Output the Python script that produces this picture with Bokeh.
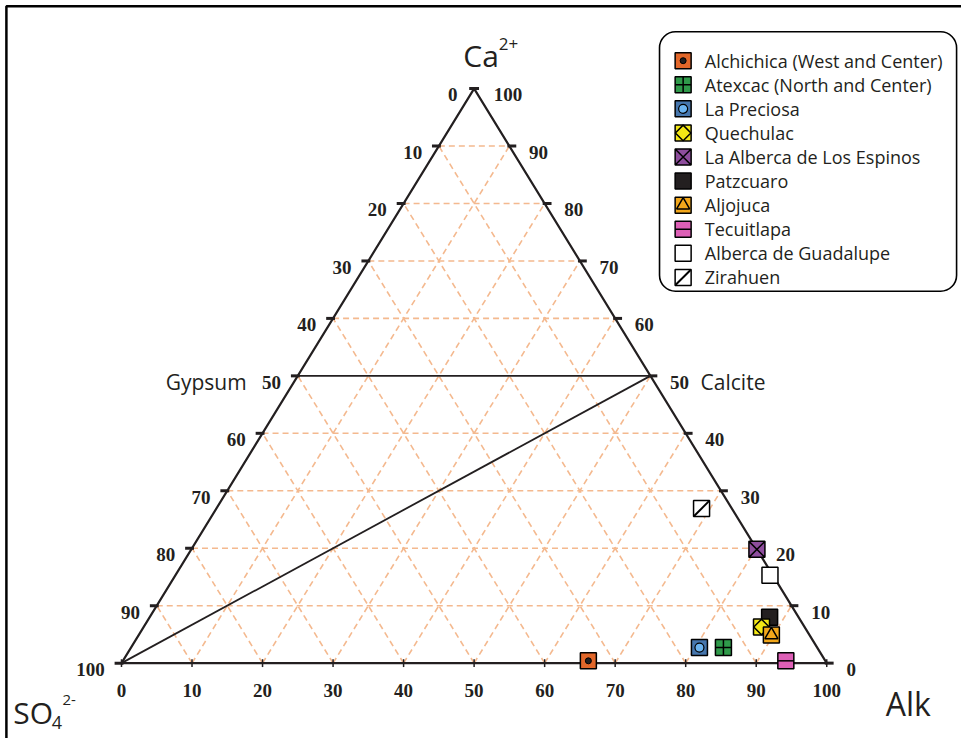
import numpy as np
from bokeh.plotting import figure
from bokeh.models import Range1d, BoxAnnotation, ColumnDataSource
from bokeh.core.properties import value
from bokeh.embed import file_html
from bokeh.resources import INLINE

# ---------------- data ----------------
lakes = ["Alchichica (West and Center)", "Atexcac (North and Center)", "La Preciosa",
         "Quechulac", "La Alberca de Los Espinos", "Patzcuaro", "Aljojuca",
         "Tecuitlapa", "Alberca de Guadalupe", "Zirahuen"]
ca_pct = [0.4, 2.7, 2.7, 6.3, 19.8, 8.0, 4.9, 0.4, 15.3, 26.9]
alk_pct = [66.0, 84.0, 80.6, 87.6, 80.2, 87.9, 89.7, 94.0, 84.3, 68.8]
so4_pct = [round(100 - c - a, 1) for c, a in zip(ca_pct, alk_pct)]
tick_values = [0, 10, 20, 30, 40, 50, 60, 70, 80, 90, 100]
draw_order = [0, 1, 2, 4, 8, 9, 5, 3, 6, 7]

# ---------------- layout (positions given in reference-picture pixels) ----------------
W, H = 961, 738
REF_W, REF_H = 977, 754
PX0, PY0 = 123.0, 677.0      # reference pixel of the SO4 vertex
SX, SY = 7.17, 5.87          # reference pixels per percent unit


def to_x(px):
    return (px - PX0) / SX


def to_y(py):
    return (PY0 - py) / SY


def tern(ca, alk, so4):
    tot = ca + alk + so4
    return (alk + ca / 2.0) / tot * 100.0, ca / tot * 100.0


def ref_px(pt):
    return PX0 + pt[0] * SX, PY0 - pt[1] * SY


INK = "#231f20"
GRID = "#f4b98f"
SERIF = "Liberation Serif"
SANS = "Open Sans"

p = figure(width=W, height=H, output_backend="svg", toolbar_location=None,
           x_range=Range1d(to_x(0), to_x(REF_W)), y_range=Range1d(to_y(REF_H), to_y(0)),
           x_axis_type=None, y_axis_type=None, min_border=0, title=None)
p.outline_line_color = None
p.background_fill_color = "white"
p.border_fill_color = "white"

# outer frame (only its left and top sides fall inside the picture)
p.add_layout(BoxAnnotation(left=to_x(6), right=to_x(REF_W + 20), top=to_y(6), bottom=to_y(REF_H + 20),
                           fill_alpha=0, line_color="black", line_alpha=1.0, line_width=2.5,
                           level="overlay"))

# ---------------- grid ----------------
gx0, gy0, gx1, gy1 = [], [], [], []
for v in tick_values[1:-1]:
    segs = []
    if v != 50:
        segs.append((tern(v, 0, 100 - v), tern(v, 100 - v, 0)))
    segs.append((tern(0, v, 100 - v), tern(100 - v, v, 0)))
    segs.append((tern(0, 100 - v, v), tern(100 - v, 0, v)))
    for a, b in segs:
        gx0.append(a[0]); gy0.append(a[1]); gx1.append(b[0]); gy1.append(b[1])
p.segment(gx0, gy0, gx1, gy1, line_color=GRID, line_width=1.6, line_dash="6 4")

# ---------------- triangle edges and reference lines ----------------
vA = tern(100, 0, 0); vS = tern(0, 0, 100); vK = tern(0, 100, 0)
p.line([vS[0], vA[0], vK[0], vS[0]], [vS[1], vA[1], vK[1], vS[1]],
       line_color=INK, line_width=2.2)
g50 = tern(50, 0, 50); c50 = tern(50, 50, 0)
p.line([g50[0], c50[0]], [g50[1], c50[1]], line_color=INK, line_width=1.8)
p.line([vS[0], c50[0]], [vS[1], c50[1]], line_color=INK, line_width=1.8)

# ---------------- ticks ----------------
tx0, ty0, tx1, ty1 = [], [], [], []
bx0, by0, bx1, by1 = [], [], [], []
for v in tick_values:
    lx, ly = tern(100 - v, 0, v)          # left edge: SO4 = v
    if v == 0:
        tx0.append(lx - 5 / SX); tx1.append(lx + 5 / SX)
    else:
        tx0.append(lx - 7 / SX); tx1.append(lx + 2 / SX)
    ty0.append(ly); ty1.append(ly)
    if v < 100:
        rx, ry = tern(v, 100 - v, 0)      # right edge: Ca = v
        tx0.append(rx - 2 / SX); tx1.append(rx + 7 / SX); ty0.append(ry); ty1.append(ry)
    bx, byy = tern(0, v, 100 - v)         # bottom: Alk = v
    bx0.append(bx); bx1.append(bx); by0.append(byy - 4 / SY); by1.append(byy + 4 / SY)
p.segment(tx0, ty0, tx1, ty1, line_color=INK, line_width=3)
p.segment(bx0, by0, bx1, by1, line_color=INK, line_width=1.5)

# ---------------- tick labels ----------------
lab = dict(x=[], y=[], t=[], a=[])
for v in tick_values:
    lx, ly = tern(100 - v, 0, v)
    lab["x"].append(lx - 17 / SX); lab["y"].append(ly - 6.5 / SY); lab["t"].append(str(v)); lab["a"].append("right")
    rx, ry = tern(v, 100 - v, 0)
    lab["x"].append(rx + 20 / SX); lab["y"].append(ry - 6.5 / SY); lab["t"].append(str(v)); lab["a"].append("left")
    bx, byy = tern(0, v, 100 - v)
    lab["x"].append(bx); lab["y"].append(byy - 28 / SY); lab["t"].append(str(v)); lab["a"].append("center")
p.text(x="x", y="y", text="t", text_align="a", source=ColumnDataSource(lab),
       text_font=value(SERIF), text_font_style="bold", text_font_size="19px",
       text_color=INK, text_baseline="alphabetic")


def txt(px, py, s, size, align="left", baseline="alphabetic"):
    p.text(x=[to_x(px)], y=[to_y(py)], text=[s], text_font=value(SANS),
           text_font_size=size, text_color=INK, text_align=align, text_baseline=baseline)


# ---------------- names ----------------
gx, gy = ref_px(g50)
cx, cy = ref_px(c50)
txt(gx - 52, gy + 6.5, "Gypsum", "21px", "right")
txt(cx + 51, cy + 6.5, "Calcite", "21px")
ax, ay = ref_px(vA)
txt(ax - 11, ay - 34, "Ca", "30px")
txt(ax + 25, ay - 46, "2+", "17px")
kx, ky = ref_px(vK)
txt(kx + 60, ky + 41, "Alk", "32px")
txt(PX0 - 110, PY0 + 50, "SO", "30px")
txt(PX0 - 71, PY0 + 61, "4", "18px")
txt(PX0 - 60, PY0 + 38, "2-", "15px")

# ---------------- symbols ----------------
styles = [
    [("square", 16, "#e2672a", 1.5, 0), ("circle", 6, INK, 1.0, 0)],
    [("square_cross", 16, "#2f9a4a", 1.5, 0)],
    [("square", 16, "#4676ad", 1.5, 0), ("circle", 9, "#6cb4f0", 1.2, 0)],
    [("square", 16, "#f3e715", 1.5, 0), ("square", 11, "#f3e715", 1.5, np.pi / 4)],
    [("square_x", 16, "#8e4d9d", 1.5, 0)],
    [("square", 16, INK, 1.5, 0)],
    [("square", 16, "#f2a71b", 1.5, 0), ("triangle", 13, "#f2a71b", 1.5, 0)],
    [("square", 16, "#dd5fb6", 1.5, 0), ("dash", 16, None, 1.5, 0)],
    [("square", 16, "white", 1.5, 0)],
    [("square", 16, "white", 1.5, 0), ("dash", 21, None, 2.0, np.pi / 4)],
]


def draw_symbol(xs, ys, style):
    for marker, size, fill, lw, ang in style:
        p.scatter(xs, ys, marker=marker, size=size, fill_color=fill,
                  line_color="black", line_width=lw, angle=ang)


for i in draw_order:
    x, y = tern(ca_pct[i], alk_pct[i], so4_pct[i])
    draw_symbol([x], [y], styles[i])

# ---------------- legend ----------------
p.add_layout(BoxAnnotation(left=to_x(670), right=to_x(972), top=to_y(32), bottom=to_y(297),
                           fill_color="white", fill_alpha=1, line_color="black", line_alpha=1.0,
                           line_width=1.6, border_radius=16, level="underlay"))
LEG_TOP, LEG_PITCH = 61.5, 24.6
for i, name in enumerate(lakes):
    py = LEG_TOP + i * LEG_PITCH
    draw_symbol([to_x(694)], [to_y(py)], styles[i])
    txt(716, py, name, "18px", baseline="middle")

open("out.html", "w").write(file_html(p, INLINE))
